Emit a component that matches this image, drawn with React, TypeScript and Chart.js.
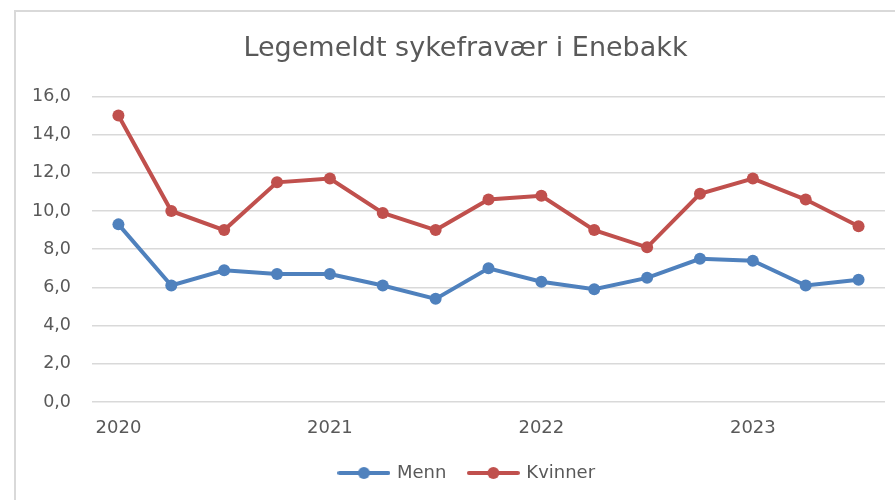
import React, { useEffect, useRef } from "react";
import { Chart, registerables } from "chart.js";

Chart.register(...registerables);

const TITLE = "Legemeldt sykefravær i Enebakk";
const xLabels = ["2020", "", "", "", "2021", "", "", "", "2022", "", "", "", "2023", "", ""];
const menn = [9.3, 6.1, 6.9, 6.7, 6.7, 6.1, 5.4, 7.0, 6.3, 5.9, 6.5, 7.5, 7.4, 6.1, 6.4];
const kvinner = [15.0, 10.0, 9.0, 11.5, 11.7, 9.9, 9.0, 10.6, 10.8, 9.0, 8.1, 10.9, 11.7, 10.6, 9.2];
const seriesNames = ["Menn", "Kvinner"];
const seriesColors = ["#4f81bd", "#c0504d"];
const yMin = 0;
const yMax = 16;
const yStep = 2;

const FONT = "'DejaVu Sans', sans-serif";
const TEXT = "#595959";

function legendIcon(color: string): HTMLCanvasElement {
  const c = document.createElement("canvas");
  c.width = 53;
  c.height = 14;
  const ctx = c.getContext("2d")!;
  ctx.strokeStyle = color;
  ctx.lineWidth = 4;
  ctx.lineCap = "round";
  ctx.beginPath();
  ctx.moveTo(2, 7);
  ctx.lineTo(51, 7);
  ctx.stroke();
  ctx.fillStyle = color;
  ctx.beginPath();
  ctx.arc(26.5, 7, 6, 0, Math.PI * 2);
  ctx.fill();
  return c;
}

const shiftPlugin = {
  id: "shiftBlocks",
  afterLayout(chart: any) {
    if (chart.titleBlock) chart.titleBlock.left += 46;
    if (chart.legend) chart.legend.left += 50;
  },
};

const framePlugin = {
  id: "frame",
  beforeDraw(chart: any) {
    const ctx = chart.ctx;
    ctx.save();
    ctx.fillStyle = "#ffffff";
    ctx.fillRect(0, 0, chart.width, chart.height);
    ctx.fillStyle = "#d9d9d9";
    ctx.fillRect(14, 10, chart.width - 14, 2);
    ctx.fillRect(14, 10, 2, chart.height - 10);
    ctx.restore();
  },
  afterDraw(chart: any) {
    const ctx = chart.ctx;
    ctx.save();
    ctx.fillStyle = "#ffffff";
    ctx.fillRect(chart.width - 8, 12, 8, chart.height - 12);
    ctx.restore();
  },
};

export default function App() {
  const ref = useRef<HTMLCanvasElement | null>(null);

  useEffect(() => {
    if (!ref.current) return;
    const icons = seriesColors.map(legendIcon);
    const chart = new Chart(ref.current, {
      type: "line",
      data: {
        labels: xLabels,
        datasets: [menn, kvinner].map((d, i) => ({
          label: seriesNames[i],
          data: d,
          borderColor: seriesColors[i],
          backgroundColor: seriesColors[i],
          borderWidth: 4,
          pointRadius: 6,
          pointBackgroundColor: seriesColors[i],
          pointBorderColor: seriesColors[i],
          pointBorderWidth: 0,
          tension: 0,
          fill: false,
        })),
      },
      plugins: [framePlugin, shiftPlugin],
      options: {
        responsive: false,
        animation: false,
        layout: { padding: { left: 0, right: 10, top: 0, bottom: 8 } },
        plugins: {
          title: {
            display: true,
            text: TITLE,
            color: TEXT,
            font: { family: FONT, size: 27, weight: "normal" },
            padding: { top: 33, bottom: 31 },
          },
          legend: {
            display: true,
            position: "bottom",
            labels: {
              color: TEXT,
              font: { family: FONT, size: 18 },
              usePointStyle: true,
              pointStyleWidth: 48,
              padding: 23,
              generateLabels: (ch: any) =>
                ch.data.datasets.map((ds: any, i: number) => ({
                  text: ds.label,
                  fillStyle: seriesColors[i],
                  strokeStyle: seriesColors[i],
                  lineWidth: 0,
                  pointStyle: icons[i],
                  hidden: false,
                  datasetIndex: i,
                  fontColor: TEXT,
                })),
            },
          },
          tooltip: { enabled: false },
        },
        scales: {
          x: {
            offset: true,
            grid: { display: false, drawTicks: false },
            border: { display: false },
            ticks: {
              autoSkip: false,
              maxRotation: 0,
              color: TEXT,
              font: { family: FONT, size: 18 },
              padding: 16,
            },
            afterFit: (s: any) => {
              s.height = 39;
            },
          },
          y: {
            min: yMin,
            max: yMax,
            grid: { color: "#d9d9d9", lineWidth: 1.5, drawTicks: false },
            border: { display: false },
            ticks: {
              stepSize: yStep,
              color: TEXT,
              font: { family: FONT, size: 17.5 },
              padding: 21,
              callback: (v: any) => Number(v).toFixed(1).replace(".", ","),
            },
            afterFit: (s: any) => {
              s.width = 92;
            },
          },
        },
      },
    });
    return () => chart.destroy();
  }, []);

  return (
    <div style={{ position: "fixed", left: 0, top: 0, width: 895, height: 500, overflow: "hidden", background: "#fff" }}>
      <canvas ref={ref} width={895} height={500} style={{ position: "absolute", left: 0, top: 0 }} />
    </div>
  );
}
